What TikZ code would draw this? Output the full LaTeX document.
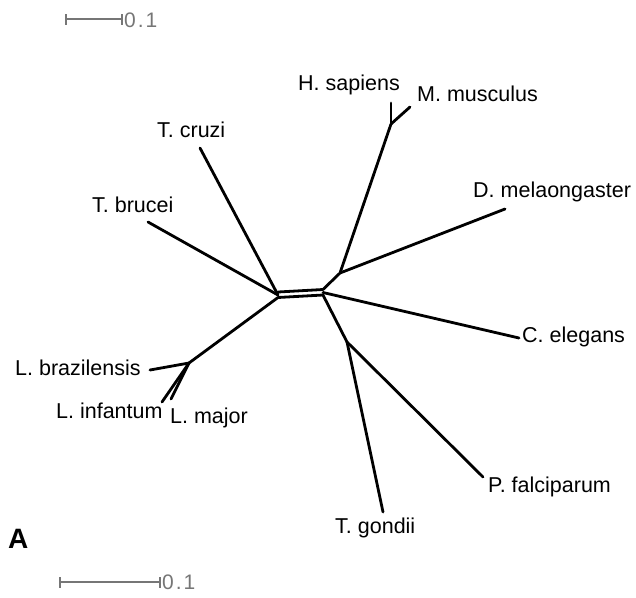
\documentclass[tikz,border=0pt]{standalone}
\usepackage{fontspec}
\setmainfont{Liberation Sans}
\definecolor{sgray}{RGB}{118,118,118}
\begin{document}
\begin{tikzpicture}[x=1pt,y=-1pt,
  br/.style={line width=2.8pt, line cap=round, line join=round},
  lab/.style={anchor=base west, inner sep=0pt, font=\fontsize{21.5}{24}\selectfont},
  sbar/.style={line width=2.8pt, draw=sgray},
  stick/.style={line width=2.4pt, draw=sgray},
  slab/.style={anchor=base west, inner sep=0pt, text=sgray, font=\fontsize{21}{24}\selectfont}]
\useasboundingbox (0,0) rectangle (636,597);
% junctions and tips
\coordinate (Lu) at (278,292);
\coordinate (Ld) at (278,297.5);
\coordinate (Lc) at (278,295);
\coordinate (Ru) at (323,289.5);
\coordinate (Rd) at (323,295);
\coordinate (Rc) at (323,292.5);
\coordinate (tcr) at (200,148);
\coordinate (tbr) at (148,222);
\coordinate (jL) at (189,363);
\coordinate (lbr) at (150,370);
\coordinate (linf) at (162,402);
\coordinate (lmaj) at (171,399);
\coordinate (jU) at (340,273);
\coordinate (jHM) at (391,124);
\coordinate (hs) at (391,103);
\coordinate (mm) at (410,107);
\coordinate (dm) at (505,209);
\coordinate (ce) at (519,338);
\coordinate (jP) at (347,342);
\coordinate (tg) at (383,512);
\coordinate (pf) at (483,477);
% branches
\draw[br] (Lu) -- (Ru);
\draw[br] (Ld) -- (Rd);
\draw[br] (tcr) -- (Lc);
\draw[br] (tbr) -- (Lc);
\draw[br] (Ld) -- (jL);
\draw[br] (jL) -- (lbr);
\draw[br] (jL) -- (linf);
\draw[br] (jL) -- (lmaj);
\draw[br] (Ru) -- (jU) -- (jHM);
\draw[br] (jHM) -- (hs);
\draw[br] (jHM) -- (mm);
\draw[br] (jU) -- (dm);
\draw[br] (Rc) -- (ce);
\draw[br] (Rd) -- (jP);
\draw[br] (jP) -- (tg);
\draw[br] (jP) -- (pf);
% labels
\node[lab] (Lhs) at (298,90) {H. sapiens};
\node[lab] (Lmm) at (417,101) {M. musculus};
\node[lab] (Ltcr) at (157,137) {T. cruzi};
\node[lab] (Ltbr) at (92,212) {T. brucei};
\node[lab] (Ldm) at (473,197) {D. melaongaster};
\node[lab] (Lce) at (522,342) {C. elegans};
\node[lab] (Llbr) at (15,375) {L. brazilensis};
\node[lab] (Llinf) at (56,418) {L. infantum};
\node[lab] (Llmaj) at (170,423) {L. major};
\node[lab] (Ltg) at (335,533) {T. gondii};
\node[lab] (Lpf) at (488,492) {P. falciparum};
\node[anchor=base west, inner sep=0pt, font=\fontsize{28}{30}\selectfont\bfseries] (panelA) at (8,548) {A};
% scale bars
\coordinate (s1a) at (66,19);
\coordinate (s1b) at (122,19);
\draw[sbar] (s1a) -- (s1b);
\draw[stick] ([yshift=-5.5pt]s1a) -- ([yshift=5.5pt]s1a);
\draw[stick] ([yshift=-5.5pt]s1b) -- ([yshift=5.5pt]s1b);
\node[slab] (sl1) at (124,27) {0\kern2pt.\kern2pt1};
\coordinate (s2a) at (60,582);
\coordinate (s2b) at (160,582);
\draw[sbar] (s2a) -- (s2b);
\draw[stick] ([yshift=-5.5pt]s2a) -- ([yshift=5.5pt]s2a);
\draw[stick] ([yshift=-5.5pt]s2b) -- ([yshift=5.5pt]s2b);
\node[slab] (sl2) at (162,589) {0\kern2pt.\kern2pt1};
\end{tikzpicture}
\end{document}
